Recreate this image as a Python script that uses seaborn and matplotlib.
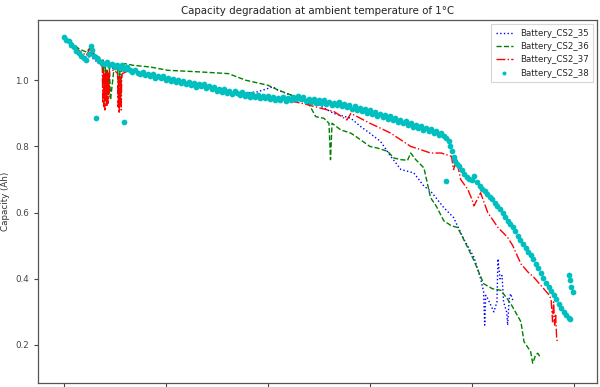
import numpy as np
import matplotlib
matplotlib.use("Agg")
import matplotlib.pyplot as plt
import seaborn as sns

sns.set_style("ticks")
plt.rcParams['font.family'] = ['DejaVu Sans']

# Battery_CS2_35 (blue, dotted)
cs35_cycle = [0, 10, 20, 30, 40, 50, 53, 58, 70, 90, 110, 130, 160, 200, 240, 270,
              290, 320, 350, 380, 400, 410, 420, 445, 468, 500, 529, 563, 582, 600,
              621, 641, 661, 686, 706, 719, 745, 764, 784, 804, 817, 823, 825, 827,
              831, 843, 849, 851, 855, 859, 862, 868, 870, 873, 876, 880]
cs35_cap = [1.13, 1.115, 1.10, 1.085, 1.07, 1.07, 1.095, 1.065, 1.05, 1.04, 1.03, 1.025,
            1.015, 1.0, 0.99, 0.985, 0.975, 0.965, 0.96, 0.965, 0.975, 0.98, 0.97, 0.955,
            0.94, 0.925, 0.90, 0.885, 0.86, 0.84, 0.815, 0.77, 0.73, 0.72, 0.68, 0.665,
            0.615, 0.585, 0.52, 0.465, 0.40, 0.36, 0.26, 0.35, 0.34, 0.30, 0.33, 0.46,
            0.40, 0.41, 0.33, 0.30, 0.26, 0.34, 0.355, 0.335]

# Battery_CS2_36 (green, dashed)
cs36_cycle = [0, 15, 30, 45, 53, 60, 73, 78, 80, 82, 84, 86, 88, 90, 92, 100, 106, 108,
              110, 112, 114, 120, 137, 170, 204, 269, 323, 357, 400, 421, 455, 480, 494,
              510, 520, 523, 526, 543, 563, 582, 600, 615, 635, 647, 661, 674, 680, 690,
              706, 719, 730, 745, 760, 772, 790, 804, 823, 840, 857, 876, 896, 902, 915,
              919, 925, 929, 935]
cs36_cap = [1.13, 1.115, 1.095, 1.085, 1.10, 1.08, 1.065, 1.06, 0.95, 1.04, 0.93, 1.03,
            0.96, 1.04, 0.94, 1.05, 1.05, 0.93, 1.04, 0.95, 1.045, 1.05, 1.045, 1.04,
            1.03, 1.025, 1.02, 1.0, 0.985, 0.97, 0.95, 0.93, 0.89, 0.885, 0.87, 0.76,
            0.87, 0.85, 0.84, 0.82, 0.80, 0.795, 0.785, 0.765, 0.76, 0.758, 0.78, 0.76,
            0.735, 0.645, 0.62, 0.575, 0.56, 0.555, 0.50, 0.455, 0.385, 0.37, 0.365,
            0.325, 0.27, 0.21, 0.18, 0.145, 0.17, 0.175, 0.16]

# Battery_CS2_37 (red, dash-dot)
cs37_cycle = [0, 15, 30, 45, 53, 60, 70, 76, 77, 78, 79, 80, 81, 82, 83, 84, 85, 86,
              87, 88, 89, 90, 92, 100, 106, 107, 108, 109, 110, 111, 112, 113, 114, 115,
              130, 160, 204, 269, 333, 400, 468, 530, 555, 563, 600, 621, 641, 680, 700,
              719, 740, 760, 764, 770, 778, 792, 800, 804, 817, 831, 851, 870, 880, 896,
              910, 921, 935, 949, 955, 958, 960, 962, 964, 966, 968]
cs37_cap = [1.13, 1.11, 1.09, 1.075, 1.10, 1.07, 1.055, 1.04, 0.93, 1.03, 0.92, 1.02,
            0.91, 1.02, 0.94, 1.03, 0.92, 1.02, 0.93, 1.02, 0.95, 1.03, 1.03, 1.03, 1.02,
            0.92, 1.01, 0.90, 1.0, 0.93, 1.01, 0.91, 1.0, 1.02, 1.03, 1.02, 1.005, 0.985,
            0.965, 0.95, 0.93, 0.905, 0.88, 0.90, 0.87, 0.855, 0.84, 0.80, 0.79, 0.78,
            0.78, 0.77, 0.73, 0.76, 0.70, 0.67, 0.64, 0.62, 0.66, 0.60, 0.555, 0.525,
            0.50, 0.445, 0.42, 0.405, 0.38, 0.355, 0.34, 0.27, 0.33, 0.26, 0.29, 0.22,
            0.205]

# Battery_CS2_38 (cyan, dots)
cs38_cycle = [0, 5, 10, 15, 20, 25, 30, 35, 40, 45, 50, 53, 55, 60, 65, 70, 75, 80, 85,
              90, 95, 100, 105, 110, 115, 120, 125, 130, 135, 140, 145, 150, 155, 160,
              165, 170, 175, 180, 185, 190, 195, 200, 205, 210, 215, 220, 225, 230, 235,
              240, 245, 250, 255, 260, 265, 270, 275, 280, 285, 290, 295, 300, 305, 310,
              315, 320, 325, 330, 335, 340, 345, 350, 355, 360, 365, 370, 375, 380, 385,
              390, 395, 400, 405, 410, 415, 420, 425, 430, 435, 440, 445, 450, 455, 460,
              465, 470, 475, 480, 485, 490, 495, 500, 505, 510, 515, 520, 525, 530, 535,
              540, 545, 550, 555, 560, 565, 570, 575, 580, 585, 590, 595, 600, 605, 610,
              615, 620, 625, 630, 635, 640, 645, 650, 655, 660, 665, 670, 675, 680, 685,
              690, 695, 700, 705, 710, 715, 720, 725, 730, 735, 740, 745, 750, 755, 758,
              761, 764, 767, 770, 775, 780, 785, 790, 795, 800, 805, 810, 815, 820, 825,
              830, 835, 840, 845, 850, 855, 860, 865, 870, 875, 880, 885, 890, 895, 900,
              905, 910, 915, 920, 925, 930, 935, 940, 945, 950, 955, 960, 965, 970, 975,
              980, 985, 990, 993,
              63, 118, 749, 990, 992, 995, 998]
cs38_cap = [1.130, 1.122, 1.118, 1.105, 1.100, 1.088, 1.082, 1.072, 1.068, 1.060, 1.078,
            1.103, 1.090, 1.072, 1.066, 1.058, 1.052, 1.048, 1.055, 1.045, 1.050, 1.040,
            1.046, 1.038, 1.045, 1.035, 1.040, 1.030, 1.024, 1.032, 1.022, 1.020, 1.026,
            1.016, 1.020, 1.012, 1.018, 1.008, 1.014, 1.006, 1.012, 1.002, 1.008, 0.998,
            1.004, 0.996, 1.002, 0.992, 0.998, 0.988, 0.995, 0.985, 0.992, 0.980, 0.988,
            0.982, 0.990, 0.976, 0.982, 0.972, 0.980, 0.968, 0.975, 0.965, 0.972, 0.962,
            0.968, 0.958, 0.966, 0.960, 0.956, 0.963, 0.952, 0.958, 0.950, 0.957, 0.948,
            0.955, 0.946, 0.952, 0.945, 0.951, 0.942, 0.949, 0.940, 0.947, 0.940, 0.949,
            0.938, 0.946, 0.940, 0.948, 0.942, 0.951, 0.943, 0.948, 0.938, 0.944, 0.935,
            0.942, 0.932, 0.939, 0.930, 0.940, 0.928, 0.934, 0.925, 0.932, 0.924, 0.933,
            0.922, 0.928, 0.918, 0.925, 0.914, 0.921, 0.910, 0.916, 0.906, 0.913, 0.902,
            0.909, 0.898, 0.904, 0.893, 0.899, 0.888, 0.894, 0.884, 0.891, 0.880, 0.885,
            0.875, 0.880, 0.870, 0.877, 0.866, 0.872, 0.860, 0.866, 0.856, 0.862, 0.851,
            0.857, 0.846, 0.853, 0.840, 0.848, 0.835, 0.842, 0.830, 0.826, 0.815, 0.800,
            0.785, 0.768, 0.755, 0.748, 0.740, 0.728, 0.718, 0.708, 0.702, 0.700, 0.712,
            0.692, 0.680, 0.672, 0.664, 0.656, 0.648, 0.640, 0.628, 0.620, 0.610, 0.600,
            0.588, 0.576, 0.566, 0.555, 0.545, 0.530, 0.518, 0.505, 0.492, 0.482, 0.472,
            0.460, 0.445, 0.432, 0.418, 0.402, 0.388, 0.375, 0.362, 0.350, 0.338, 0.325,
            0.312, 0.300, 0.290, 0.282, 0.278,
            0.885, 0.875, 0.695, 0.41, 0.395, 0.375, 0.36]

fig = plt.figure(figsize=(6.0, 3.87), dpi=100)
ax = fig.add_axes([0.0633, 0.0103, 0.9317, 0.938])

sns.lineplot(x=cs35_cycle, y=cs35_cap, color="b", linestyle=":", linewidth=1.0,
             estimator=None, sort=False, label="Battery_CS2_35", ax=ax)
sns.lineplot(x=cs36_cycle, y=cs36_cap, color="g", linestyle="--", linewidth=1.0,
             estimator=None, sort=False, label="Battery_CS2_36", ax=ax)
sns.lineplot(x=cs37_cycle, y=cs37_cap, color="r", linestyle="-.", linewidth=1.0,
             estimator=None, sort=False, label="Battery_CS2_37", ax=ax)
sns.scatterplot(x=cs38_cycle, y=cs38_cap, color="c", s=17, linewidth=0,
                label="Battery_CS2_38", ax=ax, zorder=3)

ax.set_xlim(-50, 1045)
ax.set_ylim(0.085, 1.182)
ax.set_xticks([0, 200, 400, 600, 800, 1000])
ax.set_xticklabels([])
ax.set_yticks([0.2, 0.4, 0.6, 0.8, 1.0])
ax.tick_params(labelsize=6.3, colors="#444444", length=3, width=0.8)
for sp in ax.spines.values():
    sp.set_color("#555555")
    sp.set_linewidth(0.9)

ax.set_title("Capacity degradation at ambient temperature of 1°C", fontsize=7.4,
             color="#222222", pad=4)
ax.set_ylabel("Capacity (Ah)", fontsize=6.3, color="#333333", labelpad=4)
ax.set_xlabel("")

leg = ax.legend(loc="upper right", fontsize=6.2, frameon=True, fancybox=False,
                handlelength=2.0, borderpad=0.5, labelspacing=0.5, markerscale=0.7)
leg.get_frame().set_edgecolor("#cccccc")
leg.get_frame().set_linewidth(0.8)

fig.savefig("out.png", dpi=100)
